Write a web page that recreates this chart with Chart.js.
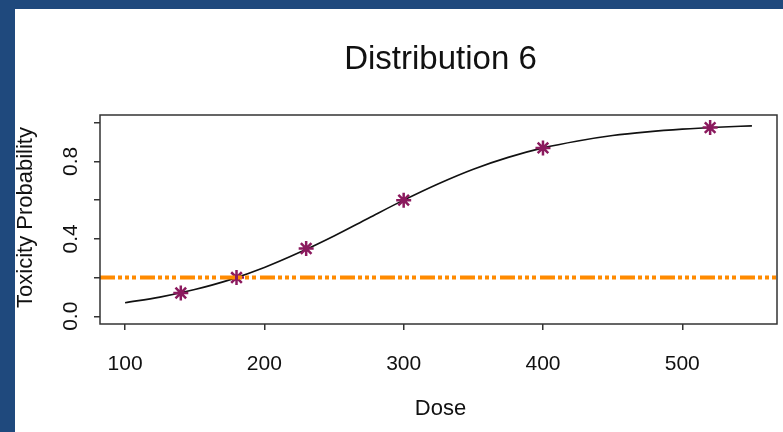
<!DOCTYPE html>
<html>
<head>
<meta charset="utf-8">
<script src="https://cdn.jsdelivr.net/npm/chart.js@4/dist/chart.umd.min.js"></script>
<style>
  html, body { margin: 0; padding: 0; }
  body { width: 783px; height: 432px; background: #1f497d; position: relative; overflow: hidden; }
  #wrap { position: absolute; left: 15px; top: 9px; width: 768px; height: 423px; background: #fff; }
</style>
</head>
<body>
<div id="wrap"><canvas id="chart" width="768" height="423"></canvas></div>
<script>
// fitted curve
const doseGrid = [100, 125, 150, 175, 200, 225, 250, 275, 300, 325, 350, 375, 400, 425, 450, 475, 500, 525, 550];
const curveProb = [0.070, 0.099, 0.138, 0.188, 0.252, 0.329, 0.415, 0.508, 0.600, 0.685, 0.760, 0.821, 0.870, 0.906, 0.934, 0.953, 0.967, 0.977, 0.984];

// observed dose levels (asterisks)
const doseLevels = [140, 180, 230, 300, 400, 520];
const toxProb = [0.12, 0.20, 0.35, 0.60, 0.87, 0.975];

// target toxicity line
const targetRate = 0.2;

// axes
const xLimits = [82, 568];
const yLimits = [-0.04, 1.04];
const xTicks = [100, 200, 300, 400, 500];
const yTicks = [0, 0.2, 0.4, 0.6, 0.8, 1.0];
const yTickLabels = ['0.0', '', '0.4', '', '0.8', ''];

const FONT = "'Liberation Sans', Arial, sans-serif";

// R-style box, rotated y labels and titles
const rStyle = {
    id: 'rStyle',
    afterDraw(chart) {
        const ctx = chart.ctx;
        const a = chart.chartArea;
        const xs = chart.scales.x, ys = chart.scales.y;
        ctx.save();
        ctx.strokeStyle = '#333';
        ctx.lineWidth = 1.5;
        ctx.strokeRect(a.left, a.top, a.right - a.left, a.bottom - a.top);

        ctx.fillStyle = '#111';
        ctx.textAlign = 'center';
        ctx.textBaseline = 'alphabetic';

        // title
        ctx.font = '33px ' + FONT;
        ctx.fillText('Distribution 6', (a.left + a.right) / 2 + 2, 60);

        // x tick labels
        ctx.font = '21px ' + FONT;
        xTicks.forEach(v => ctx.fillText(String(v), xs.getPixelForValue(v), 361));

        // x title
        ctx.font = '22px ' + FONT;
        ctx.fillText('Dose', (a.left + a.right) / 2 + 2, 406);

        // y tick labels (rotated)
        ctx.font = '21px ' + FONT;
        yTicks.forEach((v, i) => {
            if (!yTickLabels[i]) return;
            ctx.save();
            ctx.translate(62, ys.getPixelForValue(v));
            ctx.rotate(-Math.PI / 2);
            ctx.fillText(yTickLabels[i], 0, 0);
            ctx.restore();
        });

        // y title
        ctx.font = '22px ' + FONT;
        ctx.save();
        ctx.translate(17, (a.top + a.bottom) / 2 - 2);
        ctx.rotate(-Math.PI / 2);
        ctx.fillText('Toxicity Probability', 0, 0);
        ctx.restore();
        ctx.restore();
    }
};

new Chart(document.getElementById('chart'), {
    type: 'scatter',
    data: {
        datasets: [
            {
                label: 'target',
                data: xLimits.map(x => ({ x: x, y: targetRate })),
                showLine: true,
                borderColor: '#ff8a00',
                borderWidth: 4,
                borderDash: [15, 3, 4, 3, 4, 3, 4, 4],
                borderCapStyle: 'butt',
                pointRadius: 0
            },
            {
                label: 'dose levels',
                data: doseLevels.map((d, i) => ({ x: d, y: toxProb[i] })),
                pointStyle: 'star',
                pointRadius: 7.5,
                borderWidth: 2.5,
                borderColor: '#8b1a5e',
                backgroundColor: '#8b1a5e'
            },
            {
                label: 'curve',
                data: doseGrid.map((d, i) => ({ x: d, y: curveProb[i] })),
                showLine: true,
                cubicInterpolationMode: 'monotone',
                borderColor: '#111',
                borderWidth: 1.6,
                pointRadius: 0
            }
        ]
    },
    options: {
        responsive: false,
        animation: false,
        layout: { autoPadding: false, padding: { top: 106, right: 6, left: 0, bottom: 0 } },
        plugins: {
            legend: { display: false },
            title: { display: false },
            tooltip: { enabled: false }
        },
        scales: {
            x: {
                type: 'linear',
                min: xLimits[0],
                max: xLimits[1],
                afterBuildTicks: s => { s.ticks = xTicks.map(v => ({ value: v })); },
                afterFit: s => { s.height = 108; },
                ticks: { display: false },
                border: { display: false },
                grid: { drawOnChartArea: false, drawTicks: true, tickLength: 6, color: '#333', lineWidth: 1.5 }
            },
            y: {
                type: 'linear',
                min: yLimits[0],
                max: yLimits[1],
                afterBuildTicks: s => { s.ticks = yTicks.map(v => ({ value: v })); },
                afterFit: s => { s.width = 85; },
                ticks: { display: false },
                border: { display: false },
                grid: { drawOnChartArea: false, drawTicks: true, tickLength: 6, color: '#333', lineWidth: 1.5 }
            }
        }
    },
    plugins: [rStyle]
});
</script>
</body>
</html>
